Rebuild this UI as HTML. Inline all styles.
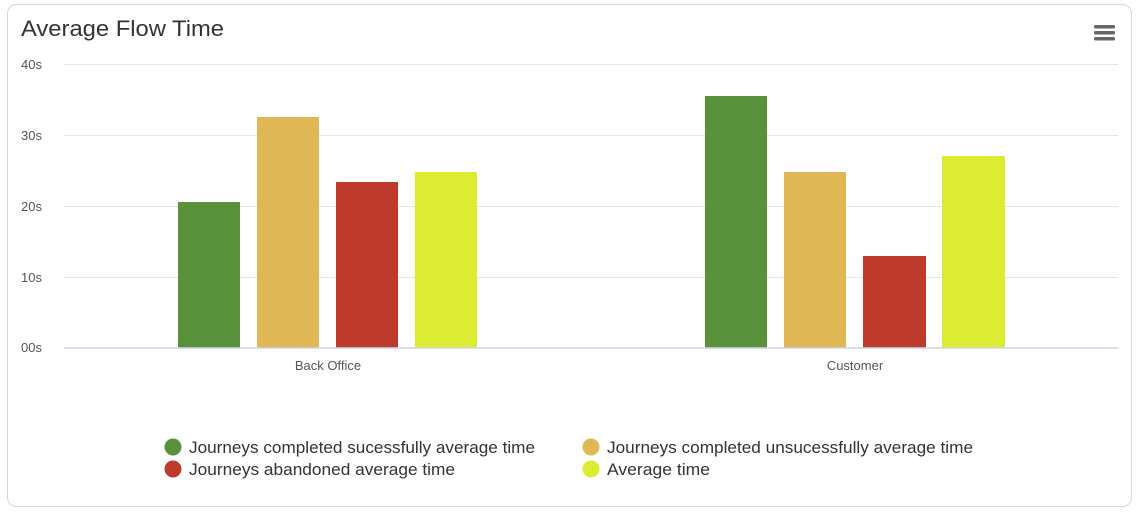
<!DOCTYPE html>
<html><head><meta charset="utf-8"><style>
html,body{margin:0;padding:0;background:#fff;}
svg{display:block;font-family:"Liberation Sans",sans-serif;}
</style></head><body>
<svg width="1138" height="513" viewBox="0 0 1138 513" xmlns="http://www.w3.org/2000/svg">
<rect x="7.5" y="4.5" width="1124" height="502" rx="9" fill="#fff" stroke="#d4d6dc"/>
<text x="21" y="36" font-size="22.5" fill="#333" textLength="203" lengthAdjust="spacingAndGlyphs">Average Flow Time</text>
<g fill="#666">
<rect x="1094" y="25" width="21" height="3.5" rx="1.5"/>
<rect x="1094" y="31" width="21" height="3.5" rx="1.5"/>
<rect x="1094" y="37" width="21" height="3.5" rx="1.5"/>
</g>
<g stroke="#e6e6e6" stroke-width="1">
<line x1="64" y1="64.5" x2="1118" y2="64.5"/>
<line x1="64" y1="135.5" x2="1118" y2="135.5"/>
<line x1="64" y1="206.5" x2="1118" y2="206.5"/>
<line x1="64" y1="277.5" x2="1118" y2="277.5"/>
</g>
<g font-size="13" fill="#555">
<text x="21" y="69">40s</text>
<text x="21" y="140">30s</text>
<text x="21" y="211">20s</text>
<text x="21" y="282">10s</text>
<text x="21" y="352">00s</text>
</g>
<rect x="178" y="202" width="62" height="146" fill="#5a923c"/>
<rect x="257" y="117" width="62" height="231" fill="#dfb755"/>
<rect x="336" y="182" width="62" height="166" fill="#bd3a2c"/>
<rect x="415" y="172" width="62" height="176" fill="#dbec33"/>
<rect x="705" y="96" width="62" height="252" fill="#5a923c"/>
<rect x="784" y="172" width="62" height="176" fill="#dfb755"/>
<rect x="863" y="256" width="63" height="92" fill="#bd3a2c"/>
<rect x="942" y="156" width="63" height="192" fill="#dbec33"/>
<line x1="64" y1="348" x2="1118" y2="348" stroke="#ccd6eb" stroke-width="1.5"/>
<g font-size="13" fill="#555" text-anchor="middle">
<text x="328" y="370">Back Office</text>
<text x="855" y="370">Customer</text>
</g>
<g font-size="17" fill="#333">
<circle cx="173" cy="447" r="8.5" fill="#5a923c"/>
<text x="189" y="453" textLength="346" lengthAdjust="spacingAndGlyphs">Journeys completed sucessfully average time</text>
<circle cx="173" cy="469" r="8.5" fill="#bd3a2c"/>
<text x="189" y="475" textLength="266" lengthAdjust="spacingAndGlyphs">Journeys abandoned average time</text>
<circle cx="591" cy="447" r="8.5" fill="#dfb755"/>
<text x="607" y="453" textLength="366" lengthAdjust="spacingAndGlyphs">Journeys completed unsucessfully average time</text>
<circle cx="591" cy="469" r="8.5" fill="#dbec33"/>
<text x="607" y="475" textLength="103" lengthAdjust="spacingAndGlyphs">Average time</text>
</g>
</svg>
</body></html>
